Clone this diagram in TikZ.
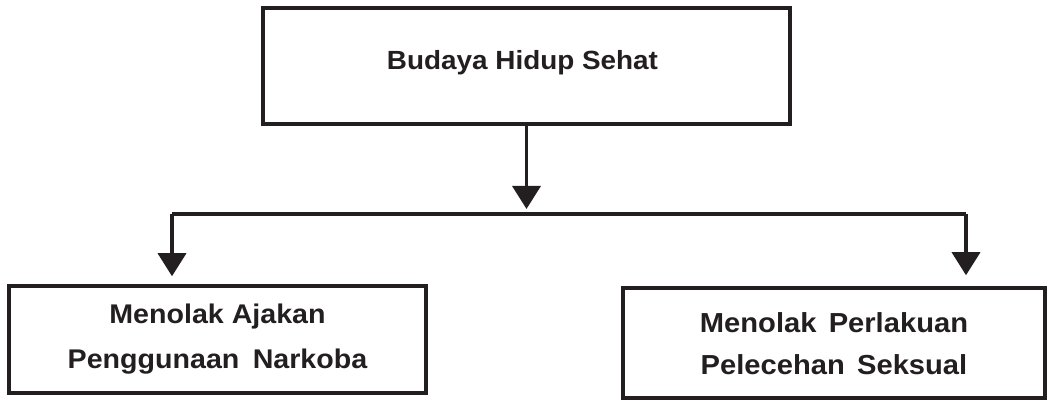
\documentclass[tikz,border=0pt]{standalone}
\usepackage{fontspec}
\setmainfont{Liberation Sans}[FakeStretch=1.06]
\usetikzlibrary{arrows.meta}
\definecolor{ink}{RGB}{35,31,32}
\tikzset{
  boxnode/.style={draw=ink, line width=3.5pt, rectangle, inner sep=0pt, fill=white},
  lbl/.style={text=ink, align=center, inner sep=0pt},
  conn/.style={draw=ink, line width=3.5pt, line join=miter},
  arr/.style={conn, -{Triangle[width=28pt,length=23pt]}}
}
\begin{document}
\begin{tikzpicture}[x=1pt,y=1pt]
\useasboundingbox (0,0) rectangle (1048,401);
% boxes
\node[boxnode, minimum width=527pt, minimum height=116pt] (top) at (526.5,335) {};
\node[boxnode, minimum width=417pt, minimum height=107pt] (left) at (217.5,61.5) {};
\node[boxnode, minimum width=422pt, minimum height=110pt] (right) at (834,58) {};
% labels
\node[lbl, font=\fontsize{26.3pt}{31pt}\selectfont\bfseries] (toptext) at ([xshift=-4pt,yshift=3.5pt]top.center) {Budaya Hidup Sehat};
\node[lbl, font=\fontsize{27pt}{45pt}\selectfont\bfseries] (lefttext) at (left.center) {Menolak Ajakan\\Penggunaan\hspace{0.2em} Narkoba};
\node[lbl, font=\fontsize{27.5pt}{42pt}\selectfont\bfseries] (righttext) at ([yshift=-0.5pt]right.center) {Menolak\hspace{0.15em} Perlakuan\\Pelecehan\hspace{0.15em} Seksual};
% connector coordinates
\coordinate (tip0) at (526.5,192);
\coordinate (jl) at (172,187);
\coordinate (jr) at (966,187);
% connectors
\draw[arr] (top.south) -- (tip0);
\draw[conn] (jl) -- (jr);
\draw[arr, shorten >=8pt] (jl) -- (jl |- left.north);
\draw[arr, shorten >=11pt] (jr) -- (jr |- right.north);
\end{tikzpicture}
\end{document}
